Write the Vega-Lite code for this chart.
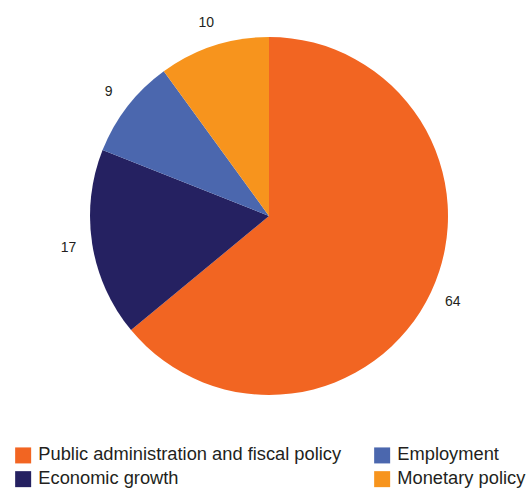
{
  "$schema": "https://vega.github.io/schema/vega-lite/v6.json",
  "width": 538,
  "height": 432,
  "padding": 0,
  "autosize": {"type": "pad"},
  "background": "white",
  "config": {"view": {"stroke": null}, "font": "Liberation Sans"},
  "data": {
    "values": [
      {"category": "Public administration and fiscal policy", "value": 64, "ord": 1},
      {"category": "Economic growth", "value": 17, "ord": 2},
      {"category": "Employment", "value": 9, "ord": 3},
      {"category": "Monetary policy", "value": 10, "ord": 4}
    ]
  },
  "encoding": {
    "theta": {"field": "value", "type": "quantitative", "stack": true},
    "order": {"field": "ord", "type": "ordinal"}
  },
  "layer": [
    {
      "mark": {"type": "arc", "outerRadius": 179},
      "encoding": {
        "color": {
          "field": "category",
          "type": "nominal",
          "scale": {
            "domain": ["Public administration and fiscal policy", "Economic growth", "Employment", "Monetary policy"],
            "range": ["#F26522", "#252161", "#4B67AE", "#F7941D"]
          },
          "legend": {
            "title": null,
            "orient": "none",
            "legendX": 14,
            "legendY": 446,
            "columns": 2,
            "symbolType": "square",
            "symbolSize": 256,
            "symbolStrokeWidth": 0,
            "labelFontSize": 18.3,
            "labelColor": "#231f20",
            "labelOffset": 6,
            "columnPadding": 31,
            "rowPadding": 5,
            "labelLimit": 400
          }
        }
      }
    },
    {
      "mark": {"type": "text", "radius": 203, "fontSize": 14, "color": "#231f20"},
      "encoding": {
        "text": {"field": "value", "type": "quantitative"}
      }
    }
  ]
}
